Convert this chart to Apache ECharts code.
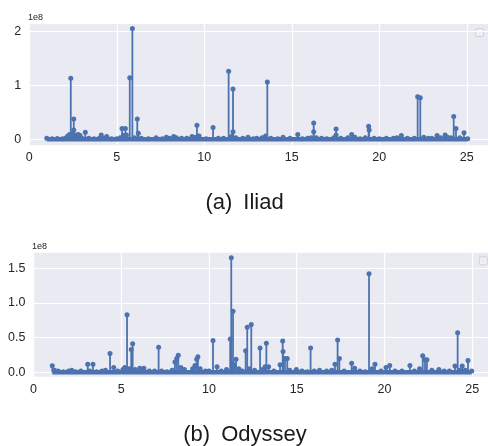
<!DOCTYPE html>
<html>
<head>
<meta charset="utf-8">
<script src="https://cdn.jsdelivr.net/npm/echarts@6/dist/echarts.min.js"></script>
<style>
  html, body { margin: 0; padding: 0; background: #fff; }
  #chart { width: 488px; height: 446px; }
</style>
</head>
<body>
<div id="chart"></div>
<script>
// values in units of 1e8
const iliadX = [1.0, 1.3, 1.6, 1.9, 2.1, 2.2, 2.3, 2.37, 2.45, 2.54, 2.54, 2.6, 2.7, 2.8, 2.9, 3.0, 3.2, 3.4, 3.7, 4.0,
  4.11, 4.25, 4.42, 4.7, 5.0, 5.2, 5.30, 5.38, 5.49, 5.55, 5.74, 5.89, 6.0, 6.17, 6.23, 6.4, 6.8, 7.25, 7.6, 7.83,
  8.0, 8.25, 8.4, 8.7, 9.0, 9.3, 9.5, 9.58, 9.7, 10.1, 10.5, 10.8, 11.1, 11.39, 11.55, 11.64, 11.64, 11.8, 12.2, 12.5,
  12.8, 13.0, 13.3, 13.5, 13.6, 13.8, 14.2, 14.5, 14.9, 15.34, 15.6, 15.9, 16.1, 16.25, 16.25, 16.4, 16.7, 17.0, 17.4, 17.53,
  17.53, 17.8, 18.2, 18.42, 18.6, 18.9, 19.2, 19.39, 19.42, 19.7, 20.0, 20.4, 20.8, 21.0, 21.26, 21.6, 22.0, 22.19, 22.34, 22.54,
  22.8, 23.0, 23.3, 23.5, 23.76, 23.9, 24.1, 24.25, 24.38, 24.6, 24.84, 25.05];
const iliadY = [0.02, 0.01, 0.015, 0.01, 0.03, 0.06, 0.09, 1.13, 0.10, 0.376, 0.17, 0.06, 0.08, 0.09, 0.07, 0.02, 0.13, 0.02, 0.01, 0.02,
  0.08, 0.02, 0.05, 0.01, 0.01, 0.03, 0.20, 0.07, 0.20, 0.08, 1.14, 2.05, 0.03, 0.376, 0.11, 0.02, 0.01, 0.03, 0.01, 0.04,
  0.02, 0.05, 0.03, 0.02, 0.02, 0.05, 0.04, 0.26, 0.06, 0.01, 0.22, 0.02, 0.02, 1.26, 0.05, 0.93, 0.14, 0.03, 0.02, 0.04,
  0.01, 0.02, 0.03, 0.06, 1.06, 0.02, 0.01, 0.04, 0.02, 0.09, 0.01, 0.02, 0.03, 0.30, 0.14, 0.03, 0.02, 0.01, 0.03, 0.19,
  0.08, 0.02, 0.03, 0.09, 0.04, 0.01, 0.03, 0.24, 0.17, 0.02, 0.01, 0.02, 0.02, 0.03, 0.07, 0.02, 0.02, 0.79, 0.77, 0.04,
  0.02, 0.02, 0.07, 0.03, 0.08, 0.04, 0.03, 0.42, 0.20, 0.03, 0.12, 0.01];

const odysseyX = [1.07, 1.2, 1.4, 1.7, 2.0, 2.18, 2.4, 2.7, 3.09, 3.2, 3.39, 3.6, 3.9, 4.1, 4.36, 4.57, 4.8, 5.1, 5.2, 5.33,
  5.45, 5.57, 5.65, 5.8, 6.06, 6.29, 6.6, 6.9, 7.13, 7.3, 7.6, 7.9, 8.06, 8.16, 8.25, 8.4, 8.6, 9.07, 9.2, 9.3,
  9.37, 9.5, 9.8, 10.0, 10.23, 10.46, 10.7, 11.0, 11.21, 11.27, 11.33, 11.37, 11.45, 11.54, 11.7, 11.9, 12.09, 12.18, 12.3, 12.41,
  12.6, 12.91, 13.05, 13.2, 13.27, 13.4, 13.7, 14.05, 14.2, 14.22, 14.33, 14.46, 14.6, 14.98, 15.3, 15.6, 15.79, 16.0, 16.3, 16.7,
  17.0, 17.18, 17.33, 17.43, 17.7, 18.13, 18.3, 18.6, 18.9, 19.12, 19.3, 19.46, 19.8, 20.09, 20.3, 20.6, 21.0, 21.45, 21.7, 22.0,
  22.18, 22.31, 22.42, 22.7, 23.1, 23.4, 23.7, 24.02, 24.17, 24.3, 24.43, 24.6, 24.76, 24.97];
const odysseyY = [0.095, 0.03, 0.02, 0.01, 0.02, 0.03, 0.01, 0.02, 0.115, 0.02, 0.115, 0.01, 0.02, 0.03, 0.27, 0.07, 0.02, 0.04, 0.07, 0.83,
  0.05, 0.33, 0.41, 0.04, 0.06, 0.06, 0.02, 0.02, 0.36, 0.02, 0.01, 0.03, 0.15, 0.20, 0.245, 0.07, 0.04, 0.05, 0.10, 0.19,
  0.225, 0.05, 0.02, 0.02, 0.46, 0.08, 0.02, 0.04, 0.48, 1.65, 0.13, 0.88, 0.10, 0.19, 0.05, 0.02, 0.31, 0.65, 0.05, 0.69,
  0.03, 0.35, 0.04, 0.08, 0.42, 0.08, 0.02, 0.11, 0.45, 0.30, 0.20, 0.20, 0.03, 0.04, 0.02, 0.01, 0.35, 0.02, 0.03, 0.02,
  0.03, 0.115, 0.465, 0.20, 0.02, 0.13, 0.06, 0.02, 0.01, 1.42, 0.05, 0.115, 0.02, 0.07, 0.10, 0.02, 0.02, 0.10, 0.02, 0.05,
  0.24, 0.18, 0.18, 0.03, 0.04, 0.02, 0.02, 0.09, 0.57, 0.03, 0.09, 0.03, 0.17, 0.02];

const xTicks = [0, 5, 10, 15, 20, 25];
const iliadYTicks = [0, 1, 2];
const odysseyYTicks = [0, 0.5, 1.0, 1.5];

const BLUE = '#4C72B0';
const BG = '#EAEAF2';
const FONT = '"Liberation Sans", Arial, sans-serif';

const chart = echarts.init(document.getElementById('chart'), null, { renderer: 'canvas' });

function pairs(xs, ys) {
  return xs.map((x, i) => [x, ys[i]]);
}

function xAxis(gridIndex, max) {
  return {
    type: 'value', gridIndex, min: 0, max,
    axisLine: { show: false },
    axisTick: { show: false, customValues: xTicks },
    axisLabel: { customValues: xTicks, color: '#262626', fontSize: 12.5, fontFamily: FONT, margin: 6 },
    splitLine: { show: true, lineStyle: { color: '#fff', width: 1.2 } }
  };
}

function yAxis(gridIndex, min, max, ticks, digits) {
  return {
    type: 'value', gridIndex, min, max,
    axisLine: { show: false },
    axisTick: { show: false, customValues: ticks },
    axisLabel: {
      customValues: ticks, color: '#262626', fontSize: 12.5, fontFamily: FONT, margin: 8,
      formatter: v => v.toFixed(digits)
    },
    splitLine: { show: true, lineStyle: { color: '#fff', width: 1.2 } }
  };
}

function stemSeries(idx, xs, ys) {
  const data = pairs(xs, ys);
  return [
    {
      type: 'line', xAxisIndex: idx, yAxisIndex: idx,
      data: [[xs[0], 0], [xs[xs.length - 1], 0]],
      showSymbol: false, silent: true,
      lineStyle: { color: BLUE, width: 4.5, opacity: 1 }, z: 2
    },
    {
      type: 'custom', xAxisIndex: idx, yAxisIndex: idx,
      data, encode: { x: 0, y: 1 },
      renderItem: (params, api) => {
        const top = api.coord([api.value(0), api.value(1)]);
        const base = api.coord([api.value(0), 0]);
        return {
          type: 'line',
          shape: { x1: base[0], y1: base[1], x2: top[0], y2: top[1] },
          style: { stroke: BLUE, lineWidth: 1.8 }
        };
      },
      z: 3
    },
    {
      type: 'scatter', xAxisIndex: idx, yAxisIndex: idx,
      data, symbolSize: 5,
      itemStyle: { color: BLUE, opacity: 1 }, z: 4
    }
  ];
}

const option = {
  animation: false,
  backgroundColor: '#fff',
  grid: [
    { left: 29.3, top: 24, right: 0, height: 121.3, backgroundColor: BG, show: true, borderWidth: 0 },
    { left: 33.5, top: 252.7, right: 0, height: 124, backgroundColor: BG, show: true, borderWidth: 0 }
  ],
  xAxis: [xAxis(0, 26.21), xAxis(1, 25.9)],
  yAxis: [
    yAxis(0, -0.111, 2.135, iliadYTicks, 0),
    yAxis(1, -0.063, 1.723, odysseyYTicks, 1)
  ],
  series: [...stemSeries(0, iliadX, iliadY), ...stemSeries(1, odysseyX, odysseyY)],
  graphic: [
    { type: 'text', left: 28, top: 13, style: { text: '1e8', fontSize: 9, fontFamily: FONT, fill: '#262626' } },
    { type: 'text', left: 32, top: 242, style: { text: '1e8', fontSize: 9, fontFamily: FONT, fill: '#262626' } },
    { type: 'rect', shape: { x: 475.5, y: 28.5, width: 8, height: 8, r: 1.5 },
      style: { fill: '#EEEEF4', stroke: '#D2D2DA', lineWidth: 1 } },
    { type: 'rect', shape: { x: 479.3, y: 256.7, width: 8, height: 8, r: 1.5 },
      style: { fill: '#EEEEF4', stroke: '#D2D2DA', lineWidth: 1 } },
    { type: 'text', x: 244.5, y: 202.5,
      style: { text: '(a)\u2002Iliad', fontSize: 22, fontFamily: FONT, fill: '#1a1a1a', textAlign: 'center', textVerticalAlign: 'middle' } },
    { type: 'text', x: 245, y: 435,
      style: { text: '(b)\u2002Odyssey', fontSize: 22, fontFamily: FONT, fill: '#1a1a1a', textAlign: 'center', textVerticalAlign: 'middle' } }
  ]
};

chart.setOption(option);
</script>
</body>
</html>
